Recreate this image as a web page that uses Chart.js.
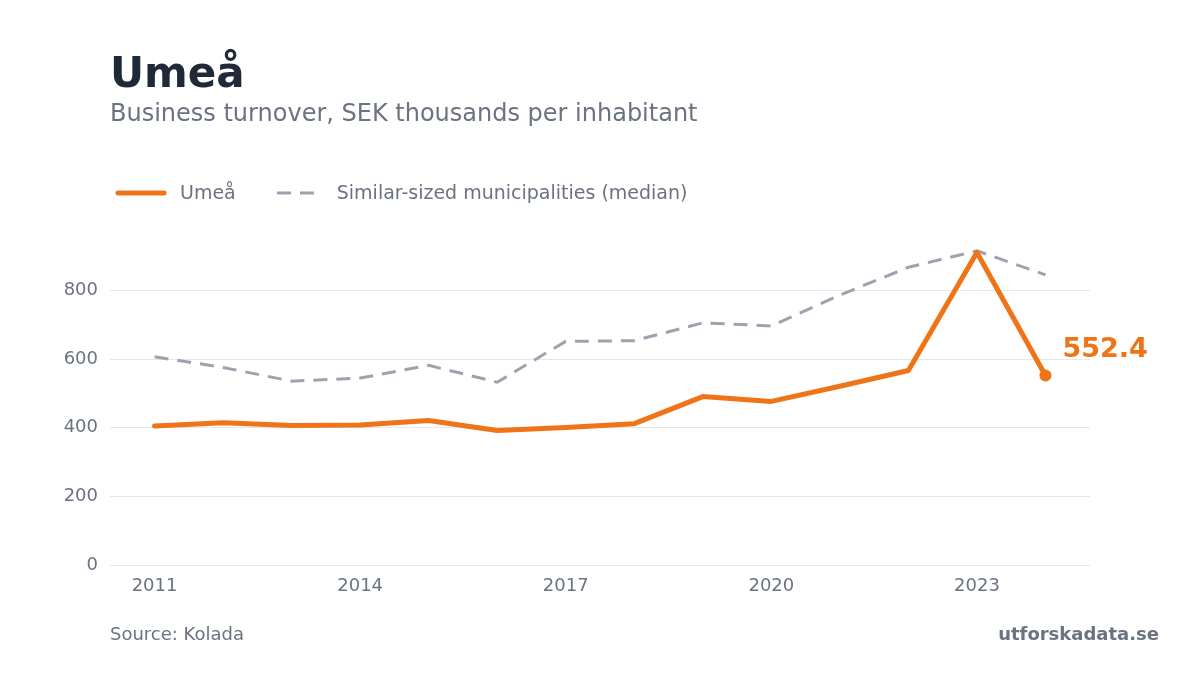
<!DOCTYPE html>
<html>
<head>
<meta charset="utf-8">
<script src="https://cdn.jsdelivr.net/npm/chart.js@4"></script>
<style>
  body { margin: 0; background: #fff; font-family: "DejaVu Sans", sans-serif; }
  .wrap { position: relative; width: 1200px; height: 675px; overflow: hidden; }
  .txt { position: absolute; line-height: 1; white-space: nowrap; }
  .title { left: 110px; top: 52px; font-size: 42px; font-weight: bold; color: #1f2937; }
  .subtitle { left: 110px; top: 101px; font-size: 24px; color: #6b7280; }
  .legend { left: 115px; top: 183px; font-size: 19px; color: #6b7280; display: flex; align-items: center; }
  .legend svg.solid { margin-right: 13px; }
  .legend svg.dash { margin-right: 20px; }
  .legend span.first { margin-right: 39px; }
  .source { left: 110px; top: 625px; font-size: 18px; color: #6b7280; }
  .brand { right: 41px; top: 625px; font-size: 18px; font-weight: bold; color: #6b7280; }
  canvas { position: absolute; left: 0; top: 0; }
</style>
</head>
<body>
<div class="wrap">
  <canvas id="myChart" width="1200" height="675"></canvas>
  <div class="txt title">Umeå</div>
  <div class="txt subtitle">Business turnover, SEK thousands per inhabitant</div>
  <div class="txt legend">
    <svg class="solid" width="52" height="10"><line x1="3" y1="5" x2="49" y2="5" stroke="#ef7417" stroke-width="5" stroke-linecap="round"/></svg>
    <span class="first">Umeå</span>
    <svg class="dash" width="42" height="10"><line x1="2" y1="5" x2="40" y2="5" stroke="#9ca3af" stroke-width="3" stroke-dasharray="14 9"/></svg>
    <span>Similar-sized municipalities (median)</span>
  </div>
  <div class="txt source">Source: Kolada</div>
  <div class="txt brand">utforskadata.se</div>
</div>
<script>
const ctx = document.getElementById('myChart');

const years = [2011, 2012, 2013, 2014, 2015, 2016, 2017, 2018, 2019, 2020, 2021, 2022, 2023, 2024];
const umea = [405, 415, 407, 408, 421, 392, 401, 412, 491, 477, 521, 567, 911, 552.4];
const median = [607, 576, 536, 545, 582, 533, 652, 654, 706, 697, 787, 868, 916, 846];
const xTicks = [2011, 2014, 2017, 2020, 2023];
const yTicks = [0, 200, 400, 600, 800];

const orange = '#ef7417';
const grey = '#9ca3af';
const tickColor = '#6b7280';

// label next to the last Umeå point
const endLabel = {
  id: 'endLabel',
  afterDatasetsDraw(chart) {
    const meta = chart.getDatasetMeta(0);
    const last = meta.data[meta.data.length - 1];
    const c = chart.ctx;
    c.save();
    c.font = 'bold 27px "DejaVu Sans"';
    c.fillStyle = orange;
    c.textAlign = 'left';
    c.textBaseline = 'middle';
    c.fillText(umea[umea.length - 1].toFixed(1), last.x + 17, last.y - 26);
    c.restore();
  }
};

new Chart(ctx, {
  type: 'line',
  data: {
    datasets: [
      {
        label: 'Umeå',
        data: years.map((y, i) => ({ x: y, y: umea[i] })),
        borderColor: orange,
        backgroundColor: orange,
        borderWidth: 5,
        borderCapStyle: 'round',
        borderJoinStyle: 'round',
        pointRadius: (c) => c.dataIndex === years.length - 1 ? 6 : 0,
        pointBorderWidth: 0,
        tension: 0
      },
      {
        label: 'Similar-sized municipalities (median)',
        data: years.map((y, i) => ({ x: y, y: median[i] })),
        borderColor: grey,
        borderWidth: 3,
        borderDash: [14, 9],
        pointRadius: 0,
        tension: 0
      }
    ]
  },
  options: {
    responsive: false,
    animation: false,
    layout: { padding: { left: 0, right: 110, top: 222, bottom: 70 } },
    plugins: { legend: { display: false }, tooltip: { enabled: false } },
    scales: {
      x: {
        type: 'linear',
        min: 2010.35,
        max: 2024.65,
        afterBuildTicks: (axis) => { axis.ticks = xTicks.map(v => ({ value: v })); },
        afterFit: (axis) => { axis.height = 40; },
        grid: { display: false },
        border: { display: false },
        ticks: {
          color: tickColor,
          font: { family: 'DejaVu Sans', size: 18 },
          padding: 3,
          maxRotation: 0,
          callback: (v) => String(v)
        }
      },
      y: {
        min: 0,
        max: 1000,
        afterBuildTicks: (axis) => { axis.ticks = yTicks.map(v => ({ value: v })); },
        afterFit: (axis) => { axis.width = 110; },
        grid: { color: '#e5e7eb', lineWidth: 1, drawTicks: false },
        border: { display: false },
        ticks: {
          color: tickColor,
          font: { family: 'DejaVu Sans', size: 18 },
          padding: 12,
          callback: (v) => String(v)
        }
      }
    }
  },
  plugins: [endLabel]
});
</script>
</body>
</html>
